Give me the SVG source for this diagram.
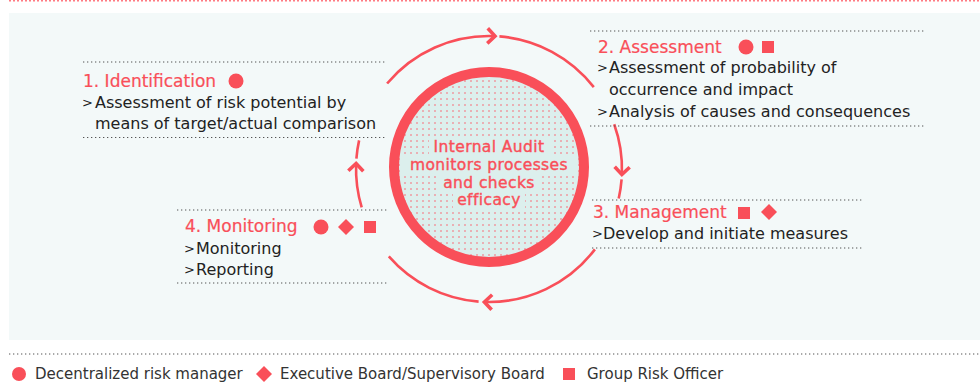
<svg xmlns="http://www.w3.org/2000/svg" width="980" height="385" viewBox="0 0 980 385">
<style>
text{font-family:"DejaVu Sans","Liberation Sans",sans-serif}
.h{font-size:17px;fill:#f94f59;stroke:#f94f59;stroke-width:0.2}
.b{font-size:16px;fill:#222}
.g{font-size:13px;fill:#222}
.c{font-size:15.5px;fill:#f94f59;stroke:#f94f59;stroke-width:0.4;text-anchor:middle;letter-spacing:0.4px}
.l{font-size:15px;fill:#333}
.dot{stroke:#555;stroke-width:1.2;stroke-dasharray:1.3 2.7;fill:none}
.arc{stroke:#f94f59;stroke-width:2.6;fill:none}
.chev{stroke:#f94f59;stroke-width:3.6;fill:none;stroke-linejoin:miter}
.r{fill:#f94f59}
.kn{fill:#dcefed}
</style>
<defs>
<pattern id="dots" width="6" height="6" patternUnits="userSpaceOnUse">
<rect width="6" height="6" fill="#dcefed"/>
<circle cx="3" cy="3" r="0.95" fill="#f0959d"/>
</pattern>
<path id="chv" d="M-7.5,-7.5 L0,0 L-7.5,7.5"/>
</defs>
<line x1="9" y1="0.8" x2="980" y2="0.8" stroke="#ff7a82" stroke-width="1.6" stroke-dasharray="2 2"/>
<rect x="9" y="13" width="971" height="327" fill="#f3f9f9"/>

<g id="connectors">
<path class="arc" d="M387.1,83.5 A133,133 0 0 1 493.6,36.1"/>
<path class="arc" d="M499.4,36.4 A133,133 0 0 1 593.8,87.1"/>
<path class="arc" d="M614.2,124.2 A133,133 0 0 1 621.9,173.6"/>
<path class="arc" d="M621.6,179.4 A133,133 0 0 1 618.7,198.5"/>
<path class="arc" d="M594.9,249.4 A133,133 0 0 1 484.4,301.9"/>
<path class="arc" d="M478.6,301.6 A133,133 0 0 1 388.8,256.4"/>
<path class="arc" d="M361.7,207.4 A133,133 0 0 1 356.1,164.4"/>
<path class="arc" d="M356.4,158.6 A133,133 0 0 1 359.1,140.4"/>
<use href="#chv" class="chev" transform="translate(495,36.1) rotate(2)"/>
<use href="#chv" class="chev" transform="translate(621.9,174.5) rotate(92)"/>
<use href="#chv" class="chev" transform="translate(484.4,302) rotate(182)"/>
<use href="#chv" class="chev" transform="translate(356.1,163.5) rotate(272)"/>
</g>

<g id="center">
<circle cx="489" cy="167" r="95" fill="url(#dots)" stroke="#f94f59" stroke-width="10"/>
<rect class="kn" x="429" y="139" width="121" height="17"/>
<rect class="kn" x="404" y="157" width="170" height="17"/>
<rect class="kn" x="440" y="175" width="99" height="17"/>
<rect class="kn" x="453" y="192" width="72" height="17"/>
<text class="c" x="489" y="152">Internal Audit</text>
<text class="c" x="489" y="170">monitors processes</text>
<text class="c" x="489" y="188">and checks</text>
<text class="c" x="489" y="205">efficacy</text>
</g>

<g id="identification">
<line class="dot" x1="83" y1="62" x2="385" y2="62"/>
<text class="h" x="83" y="87">1. Identification</text>
<circle class="r" cx="236" cy="81" r="7.5"/>
<text class="g" x="82" y="107">&gt;</text>
<text class="b" x="95" y="108">Assessment of risk potential by</text>
<text class="b" x="95" y="129">means of target/actual comparison</text>
<line class="dot" x1="83" y1="137.5" x2="385" y2="137.5"/>
</g>

<g id="assessment">
<line class="dot" x1="590" y1="31" x2="925" y2="31"/>
<text class="h" x="598" y="53">2. Assessment</text>
<circle class="r" cx="746" cy="47" r="7.5"/>
<rect class="r" x="762" y="41" width="12" height="12"/>
<text class="g" x="597" y="72">&gt;</text>
<text class="b" x="609" y="73">Assessment of probability of</text>
<text class="b" x="609" y="95">occurrence and impact</text>
<text class="g" x="597" y="116">&gt;</text>
<text class="b" x="609" y="117">Analysis of causes and consequences</text>
<line class="dot" x1="590" y1="126" x2="925" y2="126"/>
</g>

<g id="management">
<line class="dot" x1="592" y1="200" x2="862" y2="200"/>
<text class="h" x="593" y="218">3. Management</text>
<rect class="r" x="738" y="207" width="12" height="12"/>
<path class="r" d="M769,204 L777,212 L769,220 L761,212 Z"/>
<text class="g" x="592" y="238">&gt;</text>
<text class="b" x="603" y="239">Develop and initiate measures</text>
<line class="dot" x1="592" y1="248" x2="862" y2="248"/>
</g>

<g id="monitoring">
<line class="dot" x1="177" y1="210" x2="388" y2="210"/>
<text class="h" x="185" y="232">4. Monitoring</text>
<circle class="r" cx="321" cy="227" r="7.5"/>
<path class="r" d="M346,219 L354,227 L346,235 L338,227 Z"/>
<rect class="r" x="364" y="221" width="12" height="12"/>
<text class="g" x="184" y="253">&gt;</text>
<text class="b" x="196" y="254">Monitoring</text>
<text class="g" x="184" y="274">&gt;</text>
<text class="b" x="196" y="275">Reporting</text>
<line class="dot" x1="177" y1="283" x2="388" y2="283"/>
</g>

<g id="legend">
<line class="dot" x1="9" y1="354" x2="980" y2="354"/>
<circle class="r" cx="19" cy="374" r="7"/>
<text class="l" x="35" y="379">Decentralized risk manager</text>
<path class="r" d="M264,366 L272,374 L264,382 L256,374 Z"/>
<text class="l" x="280" y="379">Executive Board/Supervisory Board</text>
<rect class="r" x="563" y="368" width="12" height="12"/>
<text class="l" x="587" y="379">Group Risk Officer</text>
</g>
</svg>
